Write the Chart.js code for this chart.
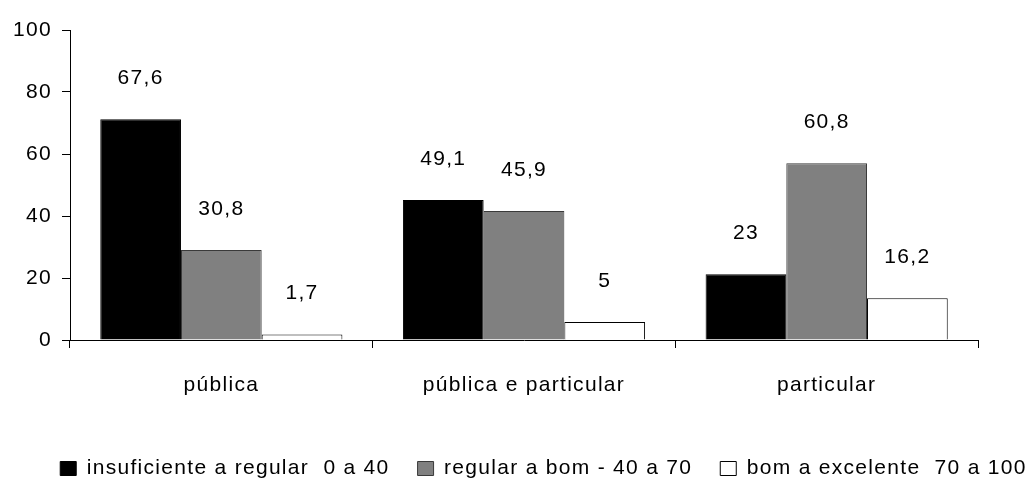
<!DOCTYPE html>
<html>
<head>
<meta charset="utf-8">
<script src="https://cdn.jsdelivr.net/npm/chart.js@4/dist/chart.umd.min.js"></script>
<style>
  body { margin: 0; background: #fff; }
  canvas { display: block; }
</style>
</head>
<body>
<canvas id="grafico" width="1034" height="479"></canvas>
<script>
const categorias = ['pública', 'pública e particular', 'particular'];
const series = [
  'insuficiente a regular  0 a 40',
  'regular a bom - 40 a 70',
  'bom a excelente  70 a 100',
];

// bar heights as drawn in the picture
const insuficiente = [71.2, 45.2, 21.2];
const regularBom = [29, 41.6, 57];
const bomExcelente = [1.8, 5.8, 13.5];

// values printed above the bars
const rotulosInsuficiente = ['67,6', '49,1', '23'];
const rotulosRegularBom = ['30,8', '45,9', '60,8'];
const rotulosBomExcelente = ['1,7', '5', '16,2'];

const yTicks = [0, 20, 40, 60, 80, 100];

const rotulos = [rotulosInsuficiente, rotulosRegularBom, rotulosBomExcelente];

Chart.defaults.font.family = '"Liberation Sans", Arial, sans-serif';
Chart.defaults.font.size = 21;
Chart.defaults.color = '#000';

const espacamento = {
  id: 'espacamento',
  afterInit: function (chart) {
    chart.ctx.letterSpacing = '1.3px';
  },
  beforeUpdate: function (chart) {
    chart.ctx.letterSpacing = '1.3px';
  },
  beforeDraw: function (chart) {
    chart.ctx.letterSpacing = '1.3px';
  },
};

const valores = {
  id: 'valores',
  afterDatasetsDraw: function (chart) {
    const ctx = chart.ctx;
    ctx.save();
    ctx.font = '21px "Liberation Sans", Arial, sans-serif';
    ctx.fillStyle = '#000';
    ctx.textAlign = 'center';
    ctx.textBaseline = 'middle';
    chart.data.datasets.forEach(function (ds, d) {
      chart.getDatasetMeta(d).data.forEach(function (bar, i) {
        ctx.fillText(rotulos[d][i], bar.x, bar.y - 41);
      });
    });
    ctx.restore();
  },
};

new Chart(document.getElementById('grafico'), {
  type: 'bar',
  data: {
    labels: categorias,
    datasets: [
      {
        label: series[0],
        data: insuficiente,
        backgroundColor: '#000000',
        borderColor: '#000000',
        borderWidth: 1,
      },
      {
        label: series[1],
        data: regularBom,
        backgroundColor: '#808080',
        borderColor: '#3a3a3a',
        borderWidth: 1,
      },
      {
        label: series[2],
        data: bomExcelente,
        backgroundColor: '#ffffff',
        borderColor: '#000000',
        borderWidth: 1,
      },
    ],
  },
  options: {
    responsive: false,
    animation: false,
    events: [],
    layout: {
      padding: { left: 12, right: -41, top: 30, bottom: -10 },
    },
    datasets: {
      bar: { categoryPercentage: 0.8, barPercentage: 1.0 },
    },
    scales: {
      x: {
        grid: {
          drawOnChartArea: false,
          offset: true,
          tickLength: 8,
          color: '#000',
        },
        border: { color: '#000', width: 1 },
        ticks: { padding: 25 },
        afterFit: function (scale) {
          scale.height = 90;
        },
      },
      y: {
        min: 0,
        max: 100,
        afterBuildTicks: function (scale) {
          scale.ticks = yTicks.map(function (v) { return { value: v }; });
        },
        grid: {
          drawOnChartArea: false,
          tickLength: 8,
          color: '#000',
        },
        border: { color: '#000', width: 1 },
        ticks: { padding: 10 },
        afterFit: function (scale) {
          scale.width = 58;
        },
      },
      yR: {
        position: 'right',
        grid: { display: false },
        border: { display: false },
        ticks: { display: false },
        afterFit: function (scale) {
          scale.width = 97;
        },
      },
    },
    plugins: {
      legend: {
        position: 'bottom',
        align: 'center',
        labels: {
          boxWidth: 16,
          boxHeight: 14,
          padding: 28,
        },
      },
      tooltip: { enabled: false },
    },
  },
  plugins: [espacamento, valores],
});
</script>
</body>
</html>
